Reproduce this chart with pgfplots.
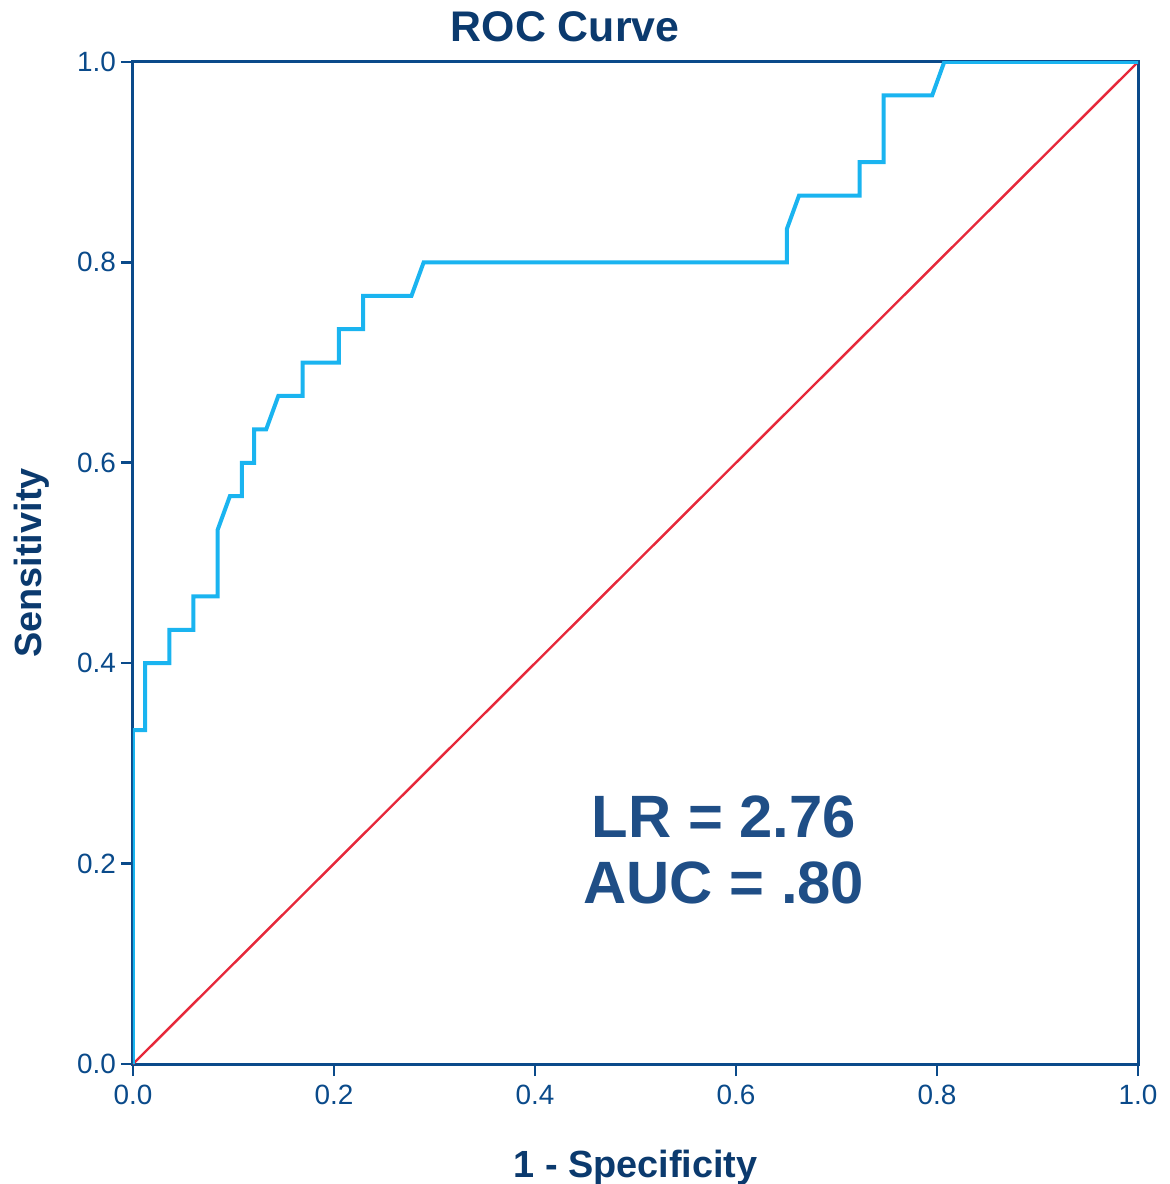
\documentclass[border=0pt]{standalone}
\usepackage{fontspec}
\setmainfont{Liberation Sans}
\usepackage{pgfplots}
\pgfplotsset{compat=1.18}

\definecolor{axisblue}{HTML}{0A4A8A}
\definecolor{titlenavy}{HTML}{0B3A6E}
\definecolor{rocblue}{HTML}{1AB4F0}
\definecolor{refred}{HTML}{E6283A}
\definecolor{notes}{HTML}{1F4E86}

\begin{document}
\begin{tikzpicture}
\begin{axis}[
    name=ax,
    scale only axis,
    width=502.5bp, height=501bp,
    xmin=0, xmax=1, ymin=0, ymax=1,
    xtick={0,0.2,...,1.0}, ytick={0,0.2,...,1.0},
    xticklabels={0.0,0.2,0.4,0.6,0.8,1.0},
    yticklabels={0.0,0.2,0.4,0.6,0.8,1.0},
    tick pos=left, tick align=outside,
    major tick length=6bp,
    axis line style={axisblue, line width=1.5bp},
    every tick/.style={axisblue, line width=1.3bp},
    /pgf/number format/assume math mode=true,
    tick label style={font=\fontsize{14}{16}\selectfont, text=axisblue},
    xticklabel style={yshift=-1bp},
    yticklabel style={xshift=1bp},
    title={\textbf{ROC Curve}},
    title style={font=\fontsize{21.5}{24}\selectfont, text=titlenavy,
        at={(axis description cs:0.43,1)}, anchor=base, inner sep=0pt, yshift=4.5bp},
    xlabel={\textbf{1 - Specificity}},
    ylabel={\textbf{Sensitivity}},
    label style={font=\fontsize{19}{22}\selectfont, text=titlenavy},
    xlabel style={yshift=-16bp},
    ylabel style={yshift=7bp},
]
\addplot[refred, line width=1.2bp] coordinates {(0,0) (1,1)};
\addplot[rocblue, line width=2bp, line join=miter] coordinates {
(0,0) (0,0.3333) (0.0120,0.3333) (0.0120,0.4) (0.0361,0.4) (0.0361,0.4333)
(0.0602,0.4333) (0.0602,0.4667) (0.0843,0.4667) (0.0843,0.5333)
(0.0964,0.5667) (0.1084,0.5667) (0.1084,0.6) (0.1205,0.6) (0.1205,0.6333)
(0.1325,0.6333) (0.1446,0.6667) (0.1687,0.6667) (0.1687,0.7) (0.2048,0.7)
(0.2048,0.7333) (0.2289,0.7333) (0.2289,0.7667) (0.2771,0.7667) (0.2892,0.8)
(0.6506,0.8) (0.6506,0.8333) (0.6627,0.8667) (0.7229,0.8667) (0.7229,0.9)
(0.7470,0.9) (0.7470,0.9667) (0.7952,0.9667) (0.8072,1) (1,1)};
\node[font=\bfseries\fontsize{30}{33.5}\selectfont, text=notes, align=center]
    at (axis description cs:0.588,0.2136) {LR = 2.76\\AUC = .80};
\end{axis}
\pgfresetboundingbox
\path[use as bounding box] ([shift={(-66.5bp,-60bp)}]ax.south west)
    rectangle ([shift={(16bp,31bp)}]ax.north east);
\end{tikzpicture}
\end{document}
